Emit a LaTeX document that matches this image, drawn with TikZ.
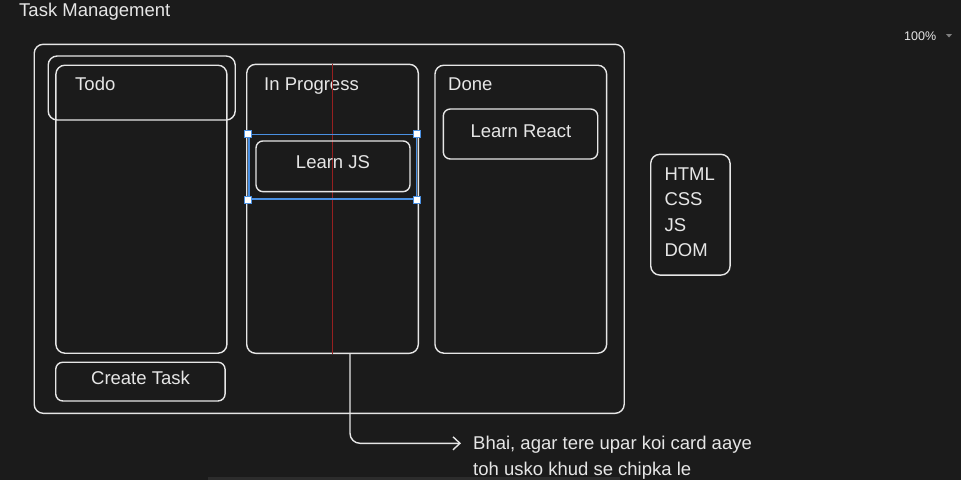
\documentclass[tikz,border=0pt]{standalone}
\usepackage{fontspec}
\setmainfont{Liberation Sans}
\usetikzlibrary{arrows.meta}
\definecolor{bg}{RGB}{27,27,27}
\definecolor{ink}{RGB}{230,230,230}
\definecolor{selblue}{RGB}{74,144,226}
\definecolor{guidered}{RGB}{150,32,32}
\definecolor{strip}{RGB}{44,44,44}
\begin{document}
\begin{tikzpicture}[x=1pt,y=-1pt,
  box/.style={draw=ink,line width=1.4pt,rounded corners=9pt,inner sep=0pt},
  card/.style={box,rounded corners=7pt},
  txt/.style={text=ink,font=\fontsize{18.5}{25.5}\selectfont,inner sep=0pt},
  handle/.style={draw=selblue,fill=white,line width=0.8pt,minimum size=7pt,inner sep=0pt}]
\fill[bg] (0,0) rectangle (961,480);
\fill[strip] (208,477) rectangle (620,480);
\node[txt,anchor=base west] (title) at (19,16) {Task Management};
\node[txt,anchor=base west,font=\fontsize{12.5}{15}\selectfont] (zoom) at (904,40) {100\%};
\fill[gray] (946,34) -- (952,34) -- (949,37.5) -- cycle;
\node[box,minimum width=590pt,minimum height=369pt] (board) at (329.2,228.8) {};
\node[box,minimum width=171pt,minimum height=288pt] (todo) at (141.4,209.2) {};
\node[box,minimum width=187pt,minimum height=64pt] (todohead) at (141.7,88) {};
\node[box,minimum width=171.6pt,minimum height=289pt] (prog) at (332.5,208.8) {};
\node[box,minimum width=171.7pt,minimum height=288pt] (done) at (520.8,209.2) {};
\node[txt,anchor=base west] (todolabel) at (75,90) {Todo};
\node[txt,anchor=base west] (proglabel) at (264,90) {In Progress};
\node[txt,anchor=base west] (donelabel) at (448,90) {Done};
\draw[guidered,line width=0.8pt] (prog.north) -- (prog.south);
\node[card,minimum width=154pt,minimum height=50.7pt] (js) at (333,166.3) {};
\node[txt,anchor=base] (jslabel) at (333,168) {Learn JS};
\node[draw=selblue,line width=1.3pt,minimum width=167.7pt,minimum height=64.7pt,inner sep=0pt] (sel) at (332.8,166.6) {};
\foreach \c in {north west,north east,south west,south east}
  \node[handle] at (sel.\c) {};
\node[card,minimum width=154.4pt,minimum height=50pt] (react) at (520.5,134) {};
\node[txt,anchor=base] (reactlabel) at (521,137) {Learn React};
\node[card,minimum width=169.3pt,minimum height=38.7pt] (create) at (140.4,381.6) {};
\node[txt,anchor=base] (createlabel) at (140.5,384) {Create Task};
\node[box,minimum width=79.3pt,minimum height=120.7pt] (stack) at (690.4,214.7) {};
\node[txt,anchor=north west,align=left] (stacklabel) at (664.3,167.5) {HTML\\CSS\\JS\\DOM};
\node[txt,anchor=base west] (note1) at (473,449.3) {Bhai, agar tere upar koi card aaye};
\node[txt,anchor=base west] (note2) at (473,475) {toh usko khud se chipka le};
\coordinate (tail) at (350,353.3);
\coordinate (tip) at (461,443.3);
\draw[ink,line width=1.4pt,rounded corners=10pt,-{Straight Barb[length=7pt,width=13pt]}] (tail) |- (tip);
\end{tikzpicture}
\end{document}
